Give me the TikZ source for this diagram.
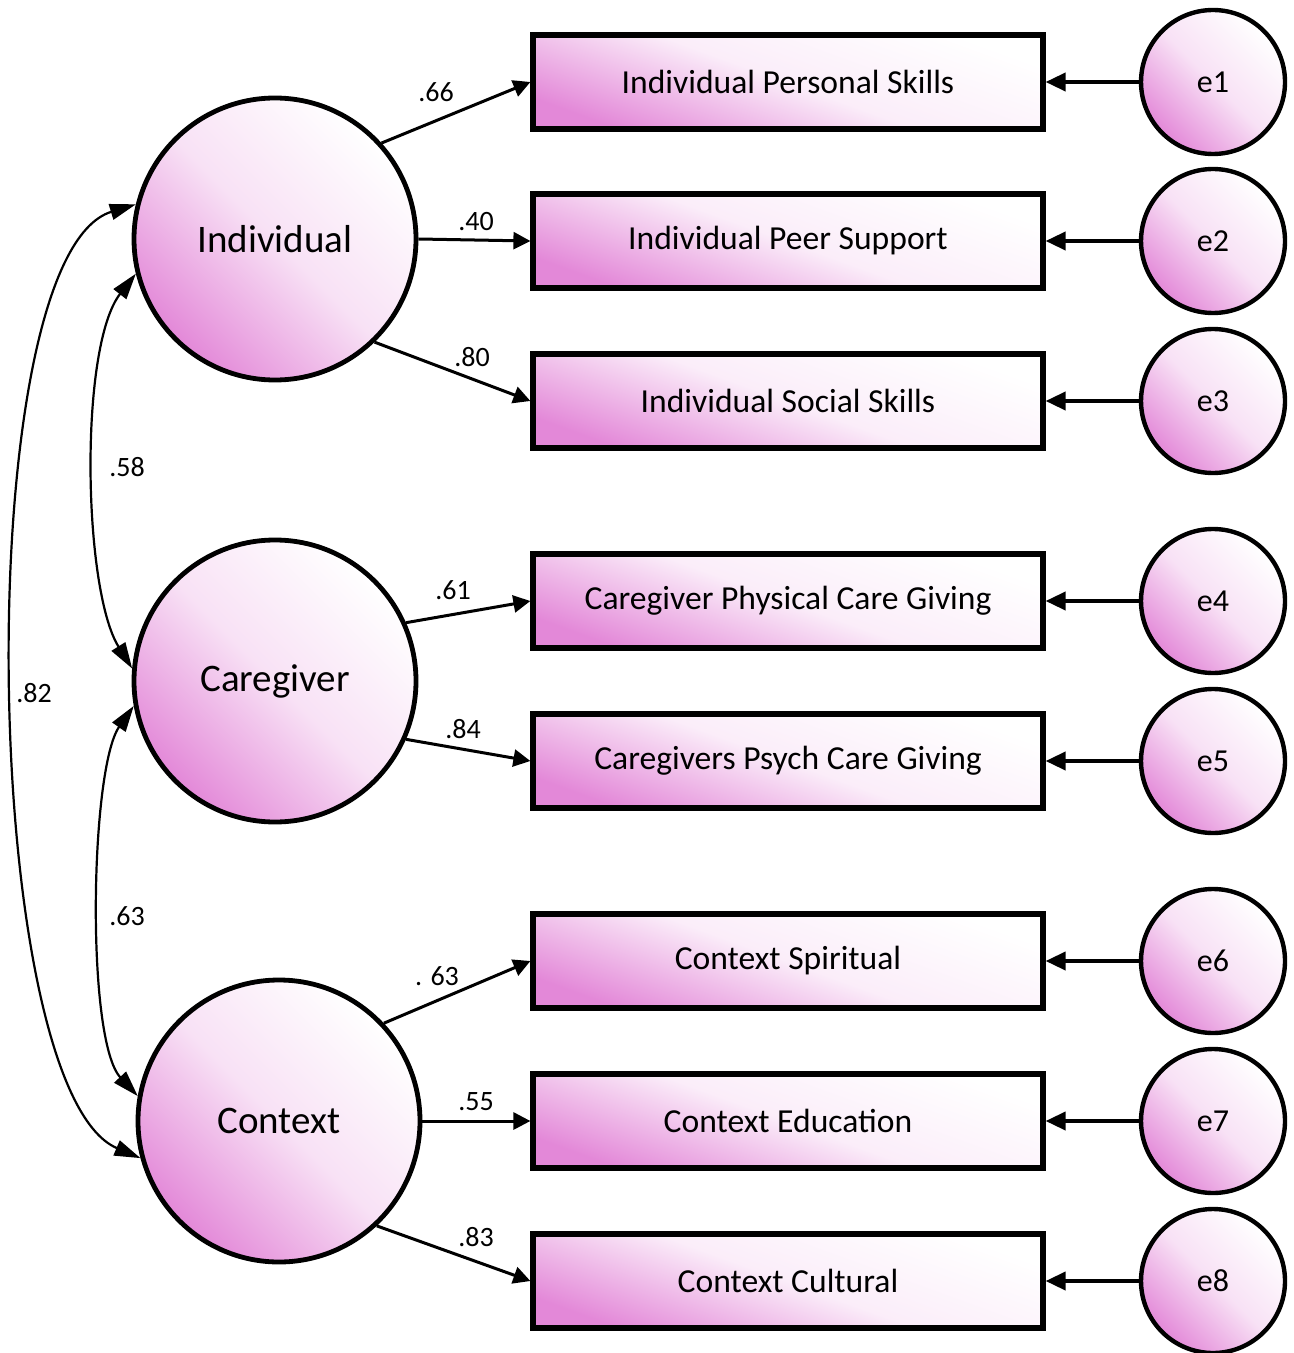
\documentclass[tikz,border=0pt]{standalone}
\usepackage{fontspec}
\setmainfont{Carlito}
\usepackage{tikz}
\usetikzlibrary{shapes.geometric, arrows.meta, positioning, calc}
\usepackage{xcolor}
\definecolor{sem-pink}{HTML}{E388D8}

\begin{document}
\begin{tikzpicture}[x=0.5pt, y=-0.5pt,
    latent/.style={circle, draw, line width=2.4pt, minimum size=141pt, inner sep=0pt,
      top color=white, bottom color=sem-pink, middle color=sem-pink!25, shading angle=-45,
      font=\fontsize{19.5}{22}\selectfont},
    indicator/.style={rectangle, draw, line width=2.6pt, minimum width=255pt, minimum height=47pt,
      top color=white, bottom color=sem-pink, middle color=sem-pink!15, shading angle=-20,
      font=\fontsize{16.8}{20}\selectfont},
    errvar/.style={circle, draw, line width=2.2pt, minimum size=72pt, inner sep=0pt,
      top color=white, bottom color=sem-pink, middle color=sem-pink!25, shading angle=-45,
      font=\fontsize{16}{19}\selectfont},
    load/.style={line width=1.5pt, -{Triangle[length=8.5pt,width=8.5pt]}},
    resid/.style={line width=1.9pt, -{Triangle[length=10pt,width=9pt]}},
    cov/.style={line width=1.1pt, {Triangle[length=13pt,width=8pt]}-{Triangle[length=13pt,width=8pt]}},
    coef/.style={font=\fontsize{14}{16}\selectfont, inner sep=1pt}]
  \useasboundingbox (0,0) rectangle (1294,1353);

  % latent factors
  \node[latent] (ind)  at (275,239)  {Individual};
  \node[latent] (care) at (275,681)  {Caregiver};
  \node[latent] (ctx)  at (279,1121) {Context};

  % observed indicators
  \node[indicator] (ips)   at (788,82)   {Individual Personal Skills};
  \node[indicator] (ipeer) at (788,241)  {Individual Peer Support};
  \node[indicator] (iss)   at (788,401)  {Individual Social Skills};
  \node[indicator] (cphys) at (788,601)  {Caregiver Physical Care Giving};
  \node[indicator] (cpsy)  at (788,761)  {Caregivers Psych Care Giving};
  \node[indicator] (cspi)  at (788,961)  {Context Spiritual};
  \node[indicator] (cedu)  at (788,1121) {Context Education};
  \node[indicator] (ccul)  at (788,1281) {Context Cultural};

  % error terms
  \node[errvar] (e1) at (1213,82)   {e1};
  \node[errvar] (e2) at (1213,241)  {e2};
  \node[errvar] (e3) at (1213,401)  {e3};
  \node[errvar] (e4) at (1213,601)  {e4};
  \node[errvar] (e5) at (1213,761)  {e5};
  \node[errvar] (e6) at (1213,961)  {e6};
  \node[errvar] (e7) at (1213,1121) {e7};
  \node[errvar] (e8) at (1213,1281) {e8};

  % loadings
  \draw[load] (ind.42)   -- (ips.west);
  \draw[load] (ind.east) -- (ipeer.west);
  \draw[load] (ind.-46)  -- (iss.west);
  \draw[load] (care.24)  -- (cphys.west);
  \draw[load] (care.-24) -- (cpsy.west);
  \draw[load] (ctx.43)   -- (cspi.west);
  \draw[load] (ctx.east) -- (cedu.west);
  \draw[load] (ctx.-47)  -- (ccul.west);

  \node[coef] (l1) at (436,92)   {.66};
  \node[coef] (l2) at (476,222)  {.40};
  \node[coef] (l3) at (472,357)  {.80};
  \node[coef] (l4) at (453,590)  {.61};
  \node[coef] (l5) at (463,729)  {.84};
  \node[coef] (l6) at (437,976)  {. 63};
  \node[coef] (l7) at (476,1102) {.55};
  \node[coef] (l8) at (476,1237) {.83};

  % residual paths
  \draw[resid] (e1) -- (ips);
  \draw[resid] (e2) -- (ipeer);
  \draw[resid] (e3) -- (iss);
  \draw[resid] (e4) -- (cphys);
  \draw[resid] (e5) -- (cpsy);
  \draw[resid] (e6) -- (cspi);
  \draw[resid] (e7) -- (cedu);
  \draw[resid] (e8) -- (ccul);

  % covariances
  \draw[cov] (ind.166) to[out=197, in=157, looseness=0.47] (ctx.195);
  \draw[cov] (ind.194) to[out=232, in=122, looseness=0.6] (care.175);
  \draw[cov] (care.190) to[out=235, in=133, looseness=0.5] (ctx.170);

  \node[coef] (c1) at (34,693)  {.82};
  \node[coef] (c2) at (127,467) {.58};
  \node[coef] (c3) at (127,916) {.63};
\end{tikzpicture}
\end{document}
